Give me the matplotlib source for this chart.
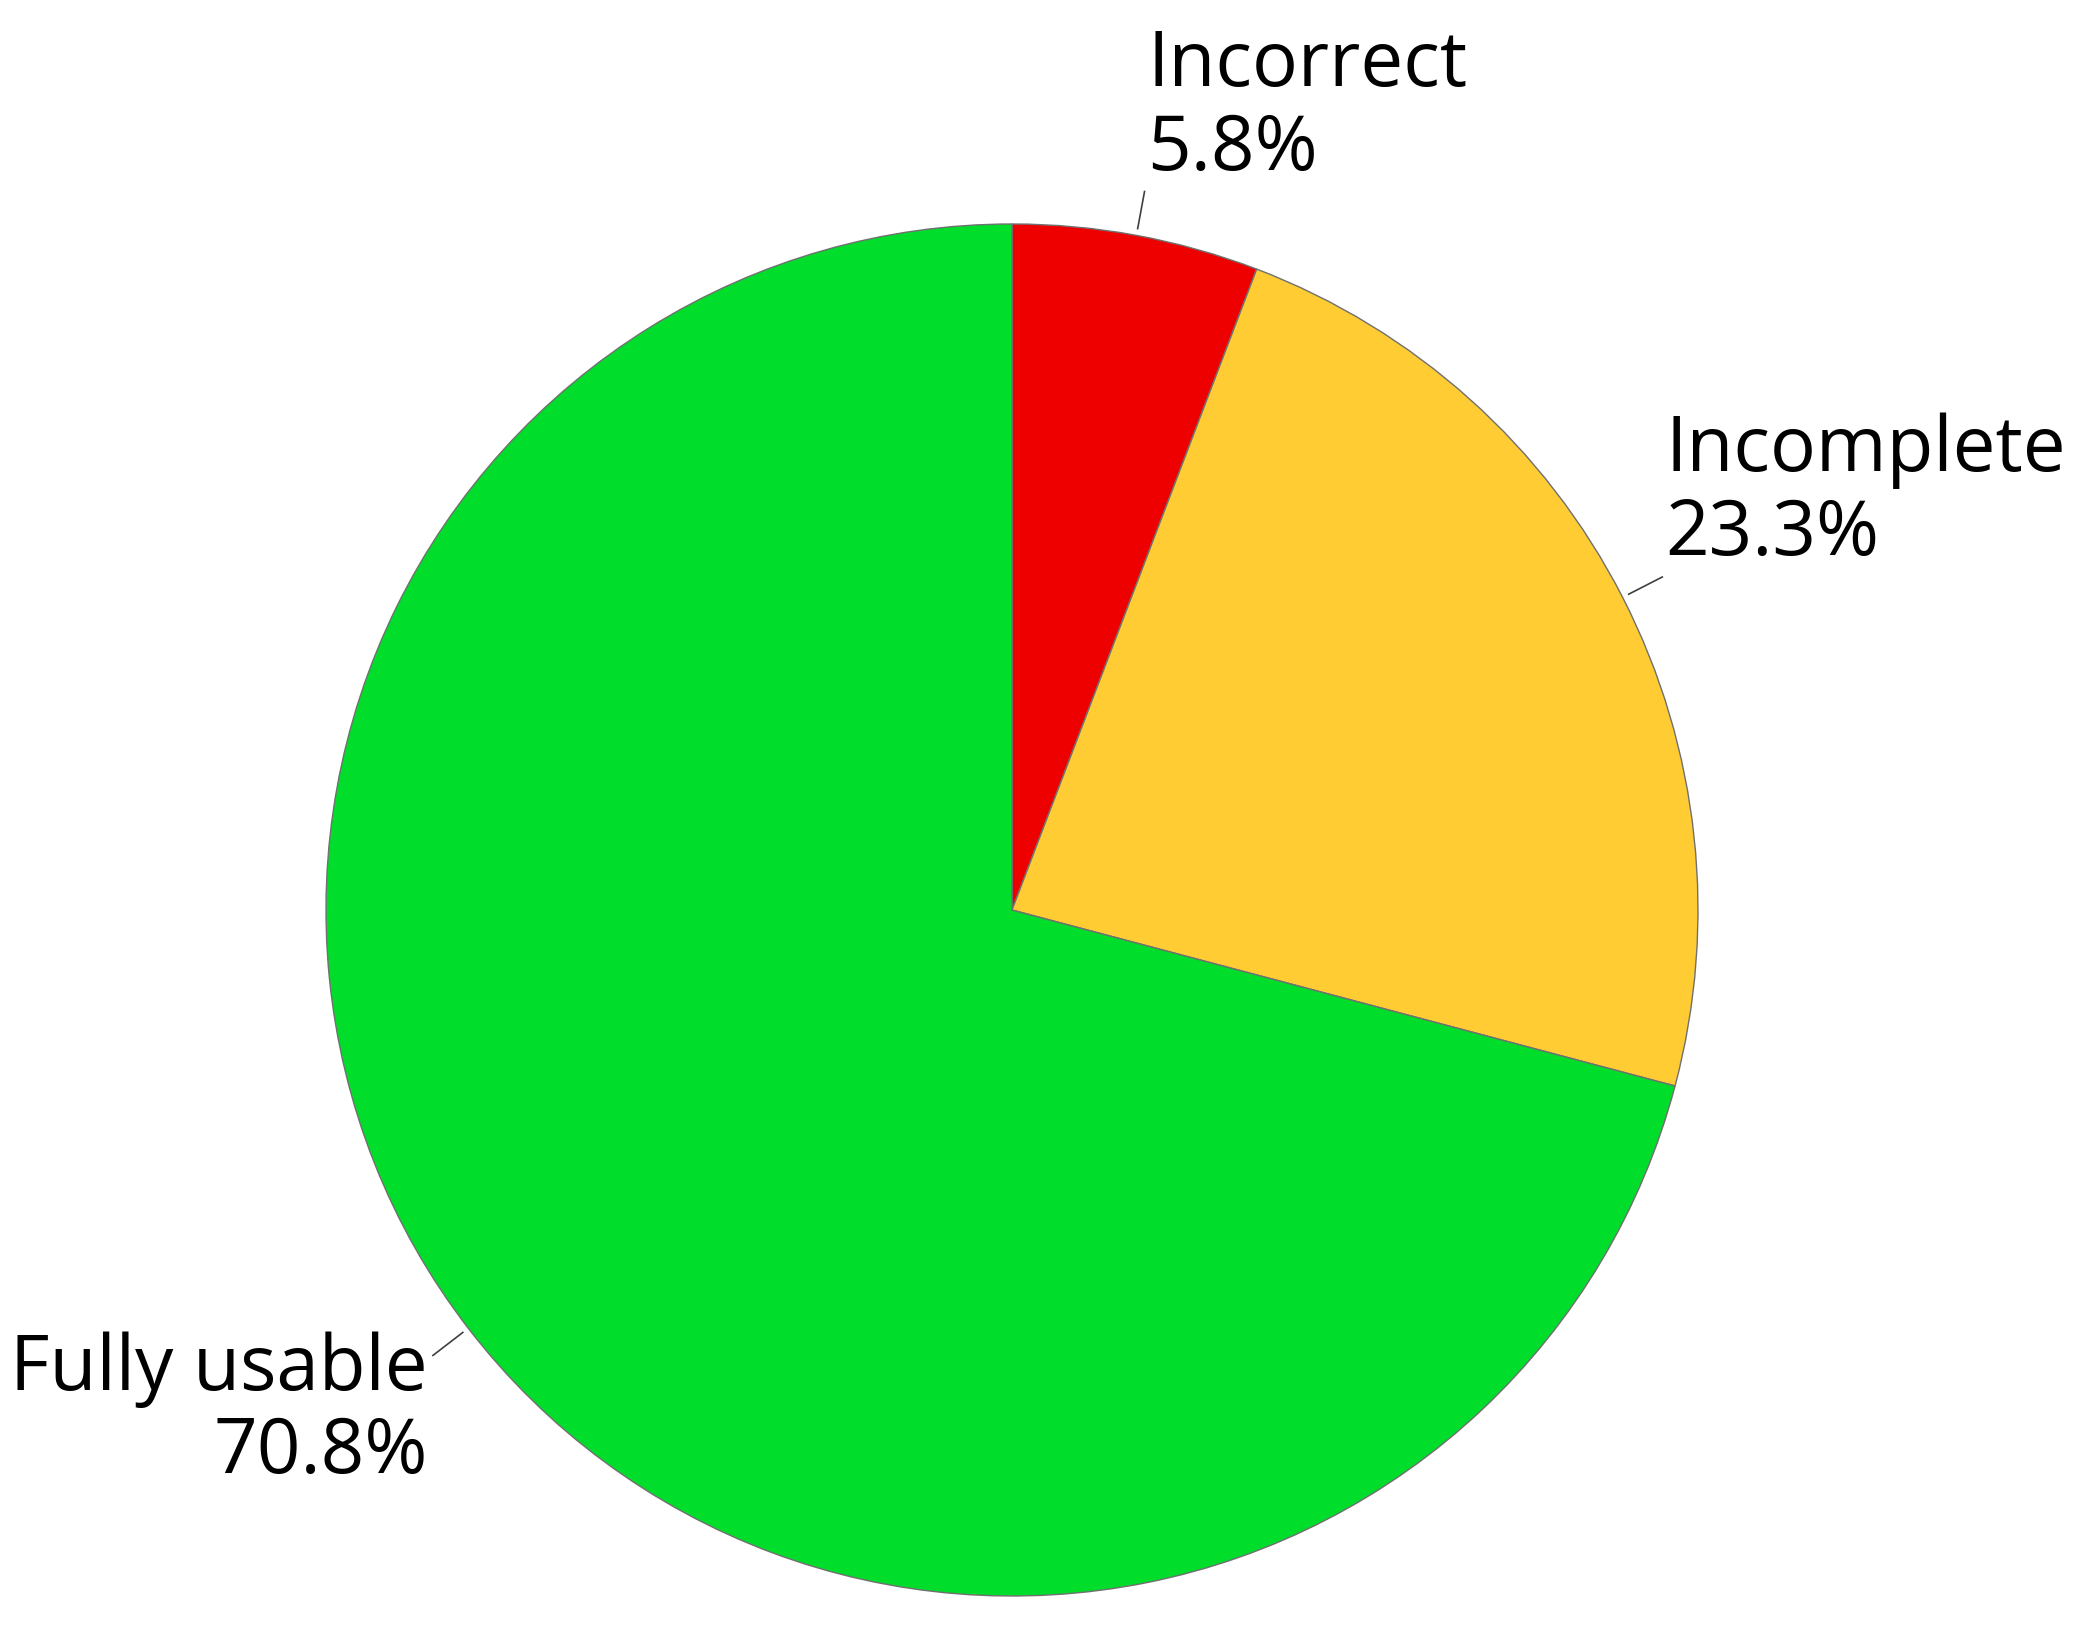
import numpy as np
import matplotlib
matplotlib.use('Agg')
import matplotlib.pyplot as plt

labels = ['Incorrect', 'Incomplete', 'Fully usable']
values = [5.8, 23.3, 70.8]
colors = ['#EE0000', '#FFCC33', '#00DD2A']

W, H = 2082, 1628
cx, cy, r = 1012, H - 910, 686

plt.rcParams['font.family'] = ['Open Sans', 'DejaVu Sans']

fig = plt.figure(figsize=(W / 100, H / 100), dpi=100)
ax = fig.add_axes([0, 0, 1, 1])

wedges, _ = ax.pie(values, colors=colors, startangle=90, counterclock=False,
                   center=(cx, cy), radius=r,
                   wedgeprops=dict(edgecolor='#707070', linewidth=1.0))
# pie resets the limits, so set them afterwards
ax.set_xlim(0, W)
ax.set_ylim(0, H)
ax.set_aspect('equal')
ax.axis('off')

fs = 55
for w, name, val in zip(wedges, labels, values):
    ang = np.deg2rad((w.theta1 + w.theta2) / 2)
    x0, y0 = cx + 1.01 * r * np.cos(ang), cy + 1.01 * r * np.sin(ang)
    x1, y1 = cx + 1.065 * r * np.cos(ang), cy + 1.065 * r * np.sin(ang)
    ax.plot([x0, x1], [y0, y1], color='#404040', lw=1.2)
    pct = f'{val:.1f}%'
    if np.cos(ang) >= 0:
        ax.text(x1 + 3, y1 + 106, name, fontsize=fs, ha='left', va='baseline')
        ax.text(x1 + 3, y1 + 22, pct, fontsize=fs, ha='left', va='baseline')
    else:
        ax.text(x1 - 5, y1 - 35, name, fontsize=fs, ha='right', va='baseline')
        ax.text(x1 - 5, y1 - 118, pct, fontsize=fs, ha='right', va='baseline')

fig.savefig('out.png', dpi=100, facecolor='white')
